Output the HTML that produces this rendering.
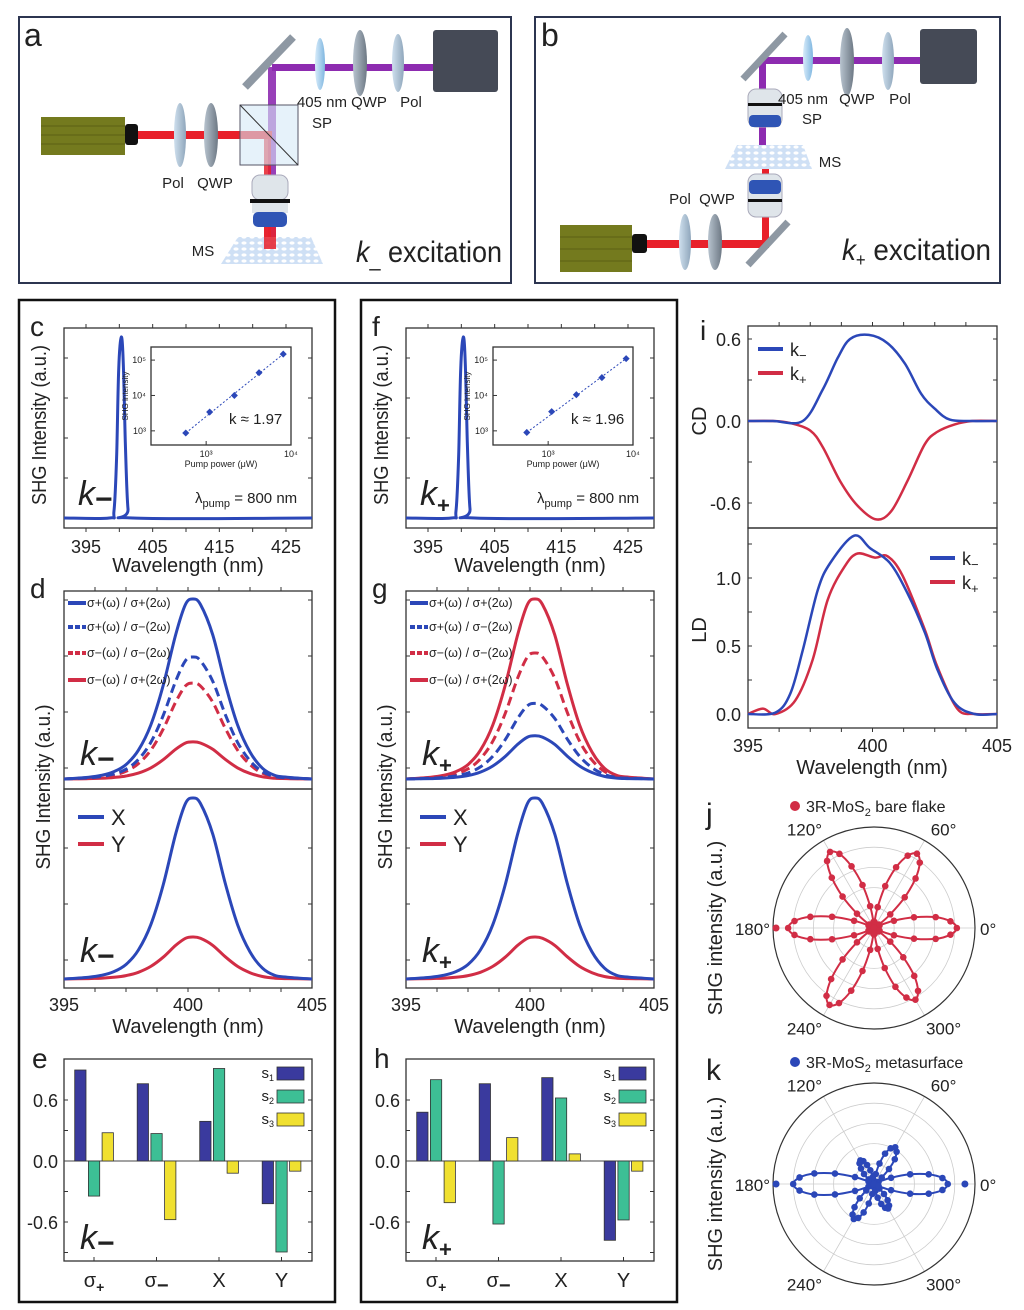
<!DOCTYPE html>
<html><head><meta charset="utf-8">
<style>
html,body{margin:0;padding:0;background:#fff;}
svg{display:block;font-family:"Liberation Sans",Arial,sans-serif;}
text{fill:#222;}
</style></head>
<body>
<svg id="fig" width="1024" height="1310" viewBox="0 0 1024 1310" xmlns="http://www.w3.org/2000/svg">
<defs>
<linearGradient id="lensG" x1="0" x2="1"><stop offset="0" stop-color="#cfe0ee"/><stop offset="1" stop-color="#8fa6bb"/></linearGradient>
<linearGradient id="qwpG" x1="0" x2="1"><stop offset="0" stop-color="#b8c4cf"/><stop offset="1" stop-color="#6d7884"/></linearGradient>
<linearGradient id="spG" x1="0" x2="1"><stop offset="0" stop-color="#d8ecfa"/><stop offset="1" stop-color="#7fb6e0"/></linearGradient>
<pattern id="msP" width="8" height="6" patternUnits="userSpaceOnUse"><rect width="8" height="6" fill="#cfe0f5"/><ellipse cx="4" cy="3" rx="2.6" ry="1.6" fill="#fff"/></pattern>
</defs>

<!-- Panel a -->
<g>
<rect x="19" y="17" width="492" height="266" fill="#fff" stroke="#2c3550" stroke-width="2"/>
<text x="24" y="46" font-size="32">a</text>
<rect x="268" y="67" width="8" height="190" fill="#8d2bb0" opacity="0.9"/>
<rect x="272" y="64" width="162" height="7" fill="#8d2bb0"/>
<rect x="138" y="131" width="134" height="8" fill="#e8202a"/>
<rect x="264" y="135" width="7" height="125" fill="#e8202a" opacity="0.85"/>
<rect x="41" y="117" width="84" height="38" fill="#747a1e"/>
<line x1="41" y1="126" x2="125" y2="126" stroke="#5b6014"/><line x1="41" y1="135" x2="125" y2="135" stroke="#5b6014"/><line x1="41" y1="144" x2="125" y2="144" stroke="#5b6014"/>
<rect x="125" y="124" width="13" height="21" rx="3" fill="#111"/>
<ellipse cx="180" cy="135" rx="6" ry="32" fill="url(#lensG)"/>
<ellipse cx="211" cy="135" rx="7" ry="32" fill="url(#qwpG)"/>
<rect x="240" y="105" width="58" height="60" fill="#d6e9f6" fill-opacity="0.6" stroke="#556" stroke-width="1"/>
<line x1="240" y1="105" x2="298" y2="165" stroke="#333"/>
<line x1="245" y1="87" x2="293" y2="37" stroke="#8e98a3" stroke-width="8"/>
<ellipse cx="320" cy="64" rx="5" ry="26" fill="url(#spG)"/>
<ellipse cx="360" cy="63" rx="7" ry="33" fill="url(#qwpG)"/>
<ellipse cx="398" cy="63" rx="6" ry="29" fill="url(#lensG)"/>
<rect x="433" y="30" width="65" height="62" rx="3" fill="#454a56"/>
<rect x="252" y="175" width="36" height="25" rx="8" fill="#dfe5ea" stroke="#aab"/>
<rect x="250" y="199" width="40" height="4" fill="#111"/>
<rect x="252" y="203" width="36" height="10" fill="#dfe5ea"/>
<rect x="253" y="212" width="34" height="15" rx="5" fill="#2f55b5"/>
<polygon points="238,237 311,237 323,264 221,264" fill="url(#msP)"/>
<rect x="264" y="227" width="12" height="22" fill="#e8202a" opacity="0.85"/>
<g font-size="15">
<text x="173" y="188" text-anchor="middle">Pol</text><text x="215" y="188" text-anchor="middle">QWP</text>
<text x="322" y="107" text-anchor="middle">405 nm</text><text x="322" y="128" text-anchor="middle">SP</text>
<text x="369" y="107" text-anchor="middle">QWP</text><text x="411" y="107" text-anchor="middle">Pol</text>
<text x="203" y="256" text-anchor="middle">MS</text>
</g>
<text x="356" y="262" font-size="30" textLength="146" lengthAdjust="spacingAndGlyphs"><tspan font-style="italic">k</tspan><tspan font-size="22" dy="4">_</tspan><tspan dy="-4"> excitation</tspan></text>
</g>

<!-- Panel b -->
<g>
<rect x="535" y="17" width="465" height="266" fill="#fff" stroke="#2c3550" stroke-width="2"/>
<text x="541" y="46" font-size="32">b</text>
<rect x="759" y="57" width="165" height="7" fill="#8d2bb0"/>
<rect x="759" y="60" width="7" height="95" fill="#8d2bb0"/>
<rect x="762" y="168" width="7" height="78" fill="#e8202a"/>
<rect x="645" y="240" width="124" height="8" fill="#e8202a"/>
<line x1="743" y1="79" x2="785" y2="34" stroke="#8e98a3" stroke-width="7"/>
<ellipse cx="808" cy="58" rx="5" ry="23" fill="url(#spG)"/>
<ellipse cx="847" cy="62" rx="7" ry="34" fill="url(#qwpG)"/>
<ellipse cx="888" cy="61" rx="6" ry="29" fill="url(#lensG)"/>
<rect x="920" y="29" width="57" height="55" rx="3" fill="#454a56"/>
<rect x="748" y="89" width="34" height="38" rx="8" fill="#dfe5ea" stroke="#aab"/>
<rect x="748" y="103" width="34" height="3" fill="#111"/>
<rect x="749" y="115" width="32" height="12" rx="4" fill="#2f55b5"/>
<polygon points="737,145 803,145 812,169 725,169" fill="url(#msP)"/>
<rect x="748" y="174" width="34" height="43" rx="8" fill="#dfe5ea" stroke="#aab"/>
<rect x="749" y="180" width="32" height="14" rx="4" fill="#2f55b5"/>
<rect x="748" y="199" width="34" height="3" fill="#111"/>
<line x1="748" y1="265" x2="788" y2="222" stroke="#8e98a3" stroke-width="7"/>
<rect x="560" y="225" width="72" height="47" fill="#747a1e"/>
<line x1="560" y1="237" x2="632" y2="237" stroke="#5b6014"/><line x1="560" y1="249" x2="632" y2="249" stroke="#5b6014"/><line x1="560" y1="261" x2="632" y2="261" stroke="#5b6014"/>
<rect x="632" y="234" width="15" height="19" rx="3" fill="#111"/>
<ellipse cx="685" cy="242" rx="6" ry="28" fill="url(#lensG)"/>
<ellipse cx="715" cy="242" rx="7" ry="28" fill="url(#qwpG)"/>
<g font-size="15">
<text x="803" y="104" text-anchor="middle">405 nm</text><text x="812" y="124" text-anchor="middle">SP</text>
<text x="857" y="104" text-anchor="middle">QWP</text><text x="900" y="104" text-anchor="middle">Pol</text>
<text x="830" y="167" text-anchor="middle">MS</text>
<text x="680" y="204" text-anchor="middle">Pol</text><text x="717" y="204" text-anchor="middle">QWP</text>
</g>
<text x="842" y="260" font-size="30" textLength="149" lengthAdjust="spacingAndGlyphs"><tspan font-style="italic">k</tspan><tspan font-size="18" dy="6">+</tspan><tspan dy="-6"> excitation</tspan></text>
</g>

<rect x="19" y="300" width="316" height="1002" fill="none" stroke="#111" stroke-width="2.5"/>
<rect x="361" y="300" width="316" height="1002" fill="none" stroke="#111" stroke-width="2.5"/>
<g id="plots"></g>
</svg>

<script>
// ---------- DATA ----------
const cWl = [391.7, 398.5, 399.2, 399.6, 399.9, 400.3, 400.6, 400.9, 401.3, 402, 428.9];
const cVal = [0, 0, 0.04, 0.35, 0.82, 1, 0.85, 0.42, 0.05, 0, 0];
const fWl = [391.7, 398.5, 399.2, 399.6, 399.9, 400.3, 400.6, 400.9, 401.3, 402, 428.9];
const fVal = [0, 0, 0.04, 0.35, 0.82, 1, 0.85, 0.42, 0.05, 0, 0];
const specTicks = ["395", "405", "415", "425"];
const specTickVals = [395, 405, 415, 425];

const insetPowerC = [575, 1100, 2150, 4200, 8100];
const insetShgC = [870, 3400, 10000, 44000, 148000];
const insetPowerF = [560, 1100, 2150, 4300, 8300];
const insetShgF = [900, 3500, 10500, 32000, 110000];

const peakWl = [395, 396, 396.5, 397, 397.5, 398, 398.5, 399, 399.5, 399.9, 400.2, 400.5, 401, 401.5, 402, 402.5, 403, 403.5, 404, 405];
const peakVal = [0, 0.01, 0.02, 0.04, 0.08, 0.16, 0.3, 0.52, 0.8, 0.97, 1, 0.97, 0.8, 0.53, 0.3, 0.15, 0.06, 0.02, 0.01, 0];
const circLabels = ["σ+(ω) / σ+(2ω)", "σ+(ω) / σ−(2ω)", "σ−(ω) / σ−(2ω)", "σ−(ω) / σ+(2ω)"];
const dCircAmp = [1.0, 0.678, 0.533, 0.206];
const gCircAmp = [0.24, 0.42, 0.70, 1.0];
const dLinAmp = [1.0, 0.232];
const gLinAmp = [1.0, 0.232];
const wlTicks = ["395", "400", "405"];
const wlTickVals = [395, 400, 405];

const barCats = ["σ+", "σ−", "X", "Y"];
const eS1 = [0.895, 0.76, 0.39, -0.42];
const eS2 = [-0.345, 0.27, 0.91, -0.895];
const eS3 = [0.278, -0.577, -0.12, -0.10];
const hS1 = [0.48, 0.76, 0.82, -0.78];
const hS2 = [0.80, -0.62, 0.62, -0.58];
const hS3 = [-0.41, 0.23, 0.07, -0.10];
const barTicks = ["0.6", "0.0", "-0.6"];
const barTickVals = [0.6, 0, -0.6];

const cdWlKm = [395, 396, 397.2, 398.0, 398.6, 399.1, 399.85, 400.6, 401.3, 401.95, 402.5, 403.1, 404, 405];
const cdKm = [0, 0, 0, 0.23, 0.46, 0.6, 0.63, 0.57, 0.42, 0.2, 0.09, 0.01, 0, 0];
const cdWlKp = [395, 396, 396.7, 397.5, 398.0, 398.7, 399.4, 400.15, 400.75, 401.4, 402.1, 402.6, 403.3, 404, 405];
const cdKp = [0, 0, -0.015, -0.07, -0.19, -0.44, -0.62, -0.72, -0.66, -0.44, -0.17, -0.08, -0.025, 0, 0];
const ldWlKm = [395, 396.1, 396.7, 397.2, 397.8, 398.3, 399.25, 399.9, 400.7, 401.4, 402.1, 402.6, 403.3, 404.1, 405];
const ldKm = [0, 0.01, 0.15, 0.47, 0.91, 1.11, 1.31, 1.22, 1.11, 0.89, 0.6, 0.33, 0.08, 0, 0];
const ldWlKp = [395, 395.6, 396.1, 396.9, 397.6, 398.2, 398.9, 399.4, 400.1, 400.6, 401.2, 402.1, 402.6, 403.4, 404.1, 405];
const ldKp = [0, 0.04, 0, 0.1, 0.4, 0.84, 1.09, 1.18, 1.15, 1.16, 1.02, 0.62, 0.35, 0.04, 0, 0];
const cdTicks = ["0.6", "0.0", "-0.6"];
const cdTickVals = [0.6, 0, -0.6];
const ldTicks = ["1.0", "0.5", "0.0"];
const ldTickVals = [1.0, 0.5, 0];

const polAngles = [0,5,10,15,20,25,30,35,40,45,50,55,60,65,70,75,80,85,90,95,100,105,110,115,120,125,130,135,140,145,150,155,160,165,170,175,180,185,190,195,200,205,210,215,220,225,230,235,240,245,250,255,260,265,270,275,280,285,290,295,300,305,310,315,320,325,330,335,340,345,350,355];
const jR = [0.82,0.76,0.62,0.41,0.21,0.06,0,0.06,0.21,0.43,0.64,0.79,0.85,0.79,0.64,0.43,0.21,0.06,0,0.06,0.22,0.44,0.65,0.81,0.87,0.81,0.65,0.44,0.22,0.06,0,0.06,0.21,0.43,0.64,0.79,0.85,0.79,0.64,0.43,0.21,0.06,0,0.06,0.22,0.44,0.66,0.82,0.88,0.82,0.66,0.44,0.22,0.06,0,0.06,0.21,0.41,0.62,0.76,0.82,0.76,0.62,0.41,0.21,0.06,0,0.06,0.21,0.41,0.62,0.76];
const kR = [0.73,0.68,0.55,0.37,0.18,0.05,0,0.03,0.1,0.21,0.32,0.39,0.42,0.39,0.32,0.21,0.1,0.03,0,0.02,0.07,0.14,0.2,0.25,0.27,0.25,0.2,0.14,0.07,0.02,0,0.06,0.2,0.4,0.6,0.74,0.8,0.74,0.6,0.4,0.2,0.06,0,0.03,0.1,0.2,0.3,0.37,0.4,0.37,0.3,0.2,0.1,0.03,0,0.02,0.07,0.14,0.21,0.26,0.28,0.26,0.21,0.14,0.07,0.02,0,0.05,0.18,0.37,0.55,0.68];
const jOutAng = [180];
const jOutR = [0.97];
const kOutAng = [0, 180];
const kOutR = [0.9, 0.97];
const polLabels = ["0°", "60°", "120°", "180°", "240°", "300°"];
const polLabelAng = [0, 60, 120, 180, 240, 300];

// ---------- HELPERS ----------
const NS = "http://www.w3.org/2000/svg";
const root = document.getElementById("plots");
const BLUE = "#2b47b8", RED = "#d12d45";
function mk(tag, attrs, parent) {
  const e = document.createElementNS(NS, tag);
  for (const k in attrs) e.setAttribute(k, attrs[k]);
  (parent || root).appendChild(e);
  return e;
}
function lin(d0, d1, r0, r1) { return v => r0 + (v - d0) * (r1 - r0) / (d1 - d0); }
function smoothPath(pts, closed) {
  const n = pts.length;
  const P = i => closed ? pts[(i + n) % n] : pts[Math.max(0, Math.min(n - 1, i))];
  let d = "M" + pts[0][0].toFixed(1) + "," + pts[0][1].toFixed(1);
  const segs = closed ? n : n - 1;
  for (let i = 0; i < segs; i++) {
    const p0 = P(i - 1), p1 = P(i), p2 = P(i + 1), p3 = P(i + 2);
    const c1 = [p1[0] + (p2[0] - p0[0]) / 6, p1[1] + (p2[1] - p0[1]) / 6];
    const c2 = [p2[0] - (p3[0] - p1[0]) / 6, p2[1] - (p3[1] - p1[1]) / 6];
    d += "C" + c1.map(v => v.toFixed(1)).join(",") + " " + c2.map(v => v.toFixed(1)).join(",") + " " + p2[0].toFixed(1) + "," + p2[1].toFixed(1);
  }
  return d + (closed ? "Z" : "");
}
function txt(x, y, s, size, anchor, parent) {
  const t = mk("text", { x: x, y: y, "font-size": size, "text-anchor": anchor || "start" }, parent);
  t.textContent = s;
  return t;
}
function frame(x0, y0, x1, y1, parent) {
  return mk("rect", { x: x0, y: y0, width: x1 - x0, height: y1 - y0, fill: "none", stroke: "#333", "stroke-width": 1.3 }, parent);
}
function kLabel(x, y, sign, parent) {
  const t = mk("text", { x: x, y: y, "font-size": 34, "font-style": "italic" }, parent);
  const a = mk("tspan", {}, t); a.textContent = "k";
  const b = mk("tspan", { "font-size": sign === "+" ? 22 : 30, dy: sign === "+" ? 8 : 4, "font-style": "normal", "font-weight": "bold" }, t);
  b.textContent = sign === "+" ? "+" : "−";
  return t;
}
function yTicks(x0, x1, ys, parent) {
  ys.forEach(y => {
    mk("line", { x1: x0, y1: y, x2: x0 + 4, y2: y, stroke: "#333" }, parent);
    mk("line", { x1: x1, y1: y, x2: x1 - 4, y2: y, stroke: "#333" }, parent);
  });
}
function xTicks(y0, y1, xs, parent) {
  xs.forEach(x => {
    mk("line", { x1: x, y1: y0, x2: x, y2: y0 + 4, stroke: "#333" }, parent);
    mk("line", { x1: x, y1: y1, x2: x, y2: y1 - 4, stroke: "#333" }, parent);
  });
}

// ---------- SPECTRUM PANELS (c, f) ----------
function specPanel(off, letter, wl, val, sign, pw, shg, kval) {
  const g = mk("g", {});
  
  
  const sx = lin(391.7, 428.9, 64 + off, 312 + off);
  const sy = lin(0, 1, 518, 337);
  frame(64 + off, 328, 312 + off, 528, g);
  xTicks(528, 328, [395, 400, 405, 410, 415, 420, 425].map(sx), g);
  yTicks(64 + off, 312 + off, [518, 478, 438, 398, 358], g);
  specTickVals.forEach((v, i) => {
    const t = txt(sx(v), 553, specTicks[i], 18, "middle", g);
    
    
  });
  const xt = txt(188 + off, 572, "Wavelength (nm)", 20, "middle", g);
  
  
  const yt = mk("text", { x: 0, y: 0, "font-size": 20, "text-anchor": "middle", textLength: 160, lengthAdjust: "spacingAndGlyphs" }, g);
  yt.textContent = "SHG Intensity (a.u.)";
  yt.setAttribute("transform", "translate(" + (46 + off) + ",425) rotate(-90)");
  
  
  const pl = txt(30 + off, 336, letter, 28, "start", g);
  
  
  const p = mk("path", { d: smoothPath(wl.map((w, i) => [sx(w), sy(val[i])])), fill: "none", stroke: BLUE, "stroke-width": 3 }, g);
  
  
  const kl = kLabel(78 + off, 505, sign, g);
  
  
  const lp = mk("text", { x: 195 + off, y: 503, "font-size": 15 }, g);
  
  
  const t1 = mk("tspan", {}, lp); t1.textContent = "λ";
  const t2 = mk("tspan", { "font-size": 11, dy: 4 }, lp); t2.textContent = "pump";
  const t3 = mk("tspan", { dy: -4 }, lp); t3.textContent = " = 800 nm";
  // inset
  const ig = mk("g", {}, g);
  
  
  const ix = lin(2.35, 4.0, 151 + off, 291 + off);
  const iy = lin(2.6, 5.37, 445, 347);
  frame(151 + off, 347, 291 + off, 445, ig);
  [3, 4].forEach(d => { mk("line", { x1: ix(d), y1: 445, x2: ix(d), y2: 441, stroke: "#333" }, ig); });
  [3, 4, 5].forEach(d => { mk("line", { x1: 151 + off, y1: iy(d), x2: 155 + off, y2: iy(d), stroke: "#333" }, ig); });
  txt(ix(3), 457, "10³", 9, "middle", ig);
  txt(ix(4), 457, "10⁴", 9, "middle", ig);
  txt(146 + off, iy(5) + 3, "10⁵", 9, "end", ig);
  txt(146 + off, iy(4) + 3, "10⁴", 9, "end", ig);
  txt(146 + off, iy(3) + 3, "10³", 9, "end", ig);
  txt(221 + off, 467, "Pump power (μW)", 9, "middle", ig);
  const iyt = txt(0, 0, "SHG intensity", 8, "middle", ig);
  iyt.setAttribute("transform", "translate(" + (128 + off) + ",396) rotate(-90)");
  const n = pw.length;
  const fl = mk("line", { x1: ix(Math.log10(pw[0])), y1: iy(Math.log10(shg[0])), x2: ix(Math.log10(pw[n - 1])), y2: iy(Math.log10(shg[n - 1])), stroke: BLUE, "stroke-width": 1, "stroke-dasharray": "2,2" }, ig);
  
  
  pw.forEach((p, i) => {
    const c = mk("rect", { x: ix(Math.log10(p)) - 2.5, y: iy(Math.log10(shg[i])) - 2.5, width: 5, height: 5, fill: BLUE, transform: "rotate(45 " + ix(Math.log10(p)) + " " + iy(Math.log10(shg[i])) + ")" }, ig);
    
    
  });
  const kt = txt(229 + off, 424, "k ≈ " + kval, 15, "start", ig);
  
  
}
specPanel(0, "c", cWl, cVal, "−", insetPowerC, insetShgC, "1.97");
specPanel(342, "f", fWl, fVal, "+", insetPowerF, insetShgF, "1.96");

// ---------- POLARIZATION SPECTRA (d, g) ----------
function polSpecPanel(off, letter, circAmp, linAmp, sign) {
  const g = mk("g", {});
  
  
  const sx = lin(395, 405, 64 + off, 312 + off);
  const syT = lin(0, 1, 779, 599);
  const syB = lin(0, 1, 979, 798);
  frame(64 + off, 591, 312 + off, 789, g);
  frame(64 + off, 789, 312 + off, 988, g);
  xTicks(988, 591, [396.25, 397.5, 398.75, 400, 401.25, 402.5, 403.75].map(sx), g);
  yTicks(64 + off, 312 + off, [768, 712, 656, 600, 960, 904, 848], g);
  wlTickVals.forEach((v, i) => {
    const t = txt(sx(v), 1011, wlTicks[i], 18, "middle", g);
    
    
  });
  const xt = txt(188 + off, 1033, "Wavelength (nm)", 20, "middle", g);
  
  
  const yt = mk("text", { x: 0, y: 0, "font-size": 20, "text-anchor": "middle", textLength: 165, lengthAdjust: "spacingAndGlyphs" }, g);
  yt.textContent = "SHG Intensity (a.u.)";
  yt.setAttribute("transform", "translate(" + (50 + off) + ",787) rotate(-90)");
  
  
  const pl = txt(30 + off, 598, letter, 28, "start", g);
  
  
  const cols = [BLUE, BLUE, RED, RED];
  const dashes = ["none", "9,5", "9,5", "none"];
  const order = [3, 2, 1, 0];
  order.forEach(i => {
    const p = mk("path", { d: smoothPath(peakWl.map((w, j) => [sx(w), syT(peakVal[j] * circAmp[i])])), fill: "none", stroke: cols[i], "stroke-width": 3, "stroke-dasharray": dashes[i] }, g);
    
    
  });
  circLabels.forEach((s, i) => {
    const y = [603, 627, 653, 680][i];
    const l = mk("line", { x1: 68 + off, y1: y, x2: 86 + off, y2: y, stroke: cols[i], "stroke-width": 4, "stroke-dasharray": i === 1 || i === 2 ? "5,2" : "none" }, g);
    
    
    const t = txt(87 + off, y + 4, s, 12.5, "start", g);
    
    
  });
  const lc = [BLUE, RED];
  const ln = ["X", "Y"];
  [1, 0].forEach(i => {
    const p = mk("path", { d: smoothPath(peakWl.map((w, j) => [sx(w), syB(peakVal[j] * linAmp[i])])), fill: "none", stroke: lc[i], "stroke-width": 3 }, g);
    
    
  });
  ln.forEach((s, i) => {
    const y = [817, 844][i];
    const l = mk("line", { x1: 78 + off, y1: y, x2: 104 + off, y2: y, stroke: lc[i], "stroke-width": 4 }, g);
    
    
    const t = txt(111 + off, y + 8, s, 22, "start", g);
    
    
  });
  const k1 = kLabel(80 + off, 765, sign, g);
  
  
  const k2 = kLabel(80 + off, 962, sign, g);
  
  
}
polSpecPanel(0, "d", dCircAmp, dLinAmp, "−");
polSpecPanel(342, "g", gCircAmp, gLinAmp, "+");

// ---------- STOKES BAR PANELS (e, h) ----------
function barPanel(off, letter, s1, s2, s3, sign) {
  const g = mk("g", {});
  
  
  const sy = lin(0, 0.6, 1161, 1100);
  const catX = i => 94 + off + i * 62.5;
  frame(64 + off, 1059, 312 + off, 1261, g);
  yTicks(64 + off, 312 + off, [-0.9, -0.6, -0.3, 0.3, 0.6].map(sy), g);
  [0, 1, 2, 3].forEach(i => mk("line", { x1: catX(i), y1: 1261, x2: catX(i), y2: 1257, stroke: "#333" }, g));
  mk("line", { x1: 64 + off, y1: sy(0), x2: 312 + off, y2: sy(0), stroke: "#444", "stroke-width": 1 }, g);
  barTickVals.forEach((v, i) => {
    const t = txt(58 + off, sy(v) + 7, barTicks[i], 18, "end", g);
    
    
  });
  const series = [s1, s2, s3];
  const fills = ["#3a3a9e", "#3dbf95", "#f0e030"];
  series.forEach((arr, si) => {
    arr.forEach((v, i) => {
      const x = catX(i) + (si - 1) * 13.7 - 5.6;
      const y0 = sy(Math.max(v, 0)), y1 = sy(Math.min(v, 0));
      const r = mk("rect", { x: x, y: y0, width: 11.3, height: y1 - y0, fill: fills[si], stroke: "#333", "stroke-width": 0.8 }, g);
      
      
    });
  });
  barCats.forEach((c, i) => {
    const t = mk("text", { x: catX(i), y: 1287, "font-size": 20, "text-anchor": "middle" }, g);
    
    
    if (c.length > 1) {
      const a = mk("tspan", {}, t); a.textContent = "σ";
      const b = mk("tspan", { "font-size": c[1] === "+" ? 14 : 20, dy: 5, "font-weight": "bold" }, t); b.textContent = c[1];
    } else t.textContent = c;
  });
  ["s1", "s2", "s3"].forEach((s, i) => {
    const y = 1067 + i * 23;
    const r = mk("rect", { x: 277 + off, y: y, width: 27, height: 13, fill: fills[i], stroke: "#333", "stroke-width": 0.8 }, g);
    
    
    const t = mk("text", { x: 274 + off, y: y + 11, "font-size": 15, "text-anchor": "end" }, g);
    
    
    const a = mk("tspan", {}, t); a.textContent = "s";
    const b = mk("tspan", { "font-size": 9, dy: 3 }, t); b.textContent = String(i + 1);
  });
  const pl = txt(32 + off, 1068, letter, 28, "start", g);
  
  
  const kl = kLabel(80 + off, 1249, sign, g);
  
  
}
barPanel(0, "e", eS1, eS2, eS3, "−");
barPanel(342, "h", hS1, hS2, hS3, "+");

// ---------- PANEL i ----------
(function () {
  const g = mk("g", {});
  
  
  const sx = lin(395, 405, 748, 997);
  const syC = lin(0, 0.6, 421, 339);
  const syL = lin(0, 1, 714, 578);
  frame(748, 326, 997, 528, g);
  frame(748, 528, 997, 728, g);
  xTicks(728, 326, [396.25, 397.5, 398.75, 400, 401.25, 402.5, 403.75].map(sx), g);
  yTicks(748, 997, [0.6, 0.3, 0, -0.3, -0.6].map(syC), g);
  yTicks(748, 997, [0, 0.25, 0.5, 0.75, 1.0, 1.25].map(syL), g);
  cdTickVals.forEach((v, i) => {
    const t = txt(741, syC(v) + 7, cdTicks[i], 18, "end", g);
    
    
  });
  ldTickVals.forEach((v, i) => {
    const t = txt(741, syL(v) + 7, ldTicks[i], 18, "end", g);
    
    
  });
  wlTickVals.forEach((v, i) => {
    const t = txt(sx(v), 752, wlTicks[i], 18, "middle", g);
    
    
  });
  const xt = txt(872, 774, "Wavelength (nm)", 20, "middle", g);
  
  
  const cd = txt(0, 0, "CD", 20, "middle", g);
  cd.setAttribute("transform", "translate(706,421) rotate(-90)");
  
  
  const ld = txt(0, 0, "LD", 20, "middle", g);
  ld.setAttribute("transform", "translate(706,630) rotate(-90)");
  
  
  const pl = txt(700, 340, "i", 28, "start", g);
  
  
  const l1 = mk("path", { d: smoothPath(cdWlKp.map((w, i) => [sx(w), syC(cdKp[i])])), fill: "none", stroke: RED, "stroke-width": 2.5 }, g);
  
  
  const l2 = mk("path", { d: smoothPath(cdWlKm.map((w, i) => [sx(w), syC(cdKm[i])])), fill: "none", stroke: BLUE, "stroke-width": 2.5 }, g);
  
  
  const l3 = mk("path", { d: smoothPath(ldWlKp.map((w, i) => [sx(w), syL(ldKp[i])])), fill: "none", stroke: RED, "stroke-width": 2.5 }, g);
  
  
  const l4 = mk("path", { d: smoothPath(ldWlKm.map((w, i) => [sx(w), syL(ldKm[i])])), fill: "none", stroke: BLUE, "stroke-width": 2.5 }, g);
  
  
  function leg(x, y, col, sign) {
    const l = mk("line", { x1: x, y1: y, x2: x + 25, y2: y, stroke: col, "stroke-width": 4 }, g);
    
    
    const t = mk("text", { x: x + 32, y: y + 7, "font-size": 18 }, g);
    
    
    const a = mk("tspan", {}, t); a.textContent = "k";
    const b = mk("tspan", { "font-size": 13, dy: 4 }, t); b.textContent = sign;
  }
  leg(758, 349, BLUE, "−"); leg(758, 373, RED, "+");
  leg(930, 558, BLUE, "−"); leg(930, 582, RED, "+");
})();

// ---------- POLAR PANELS (j, k) ----------
function polarPanel(cy, letter, rArr, outA, outR, col, legendText) {
  const cx = 874, R = 101;
  const g = mk("g", {});
  
  
  [0.2, 0.4, 0.6, 0.8].forEach(f => mk("circle", { cx: cx, cy: cy, r: R * f, fill: "none", stroke: "#ccc", "stroke-width": 0.8 }, g));
  [0, 60, 120].forEach(a => {
    const t = a * Math.PI / 180;
    mk("line", { x1: cx - R * Math.cos(t), y1: cy + R * Math.sin(t), x2: cx + R * Math.cos(t), y2: cy - R * Math.sin(t), stroke: "#ccc", "stroke-width": 0.8 }, g);
  });
  const oc = mk("circle", { cx: cx, cy: cy, r: R, fill: "none", stroke: "#333", "stroke-width": 1.2 }, g);
  
  
  const pt = (a, r) => [cx + R * r * Math.cos(a * Math.PI / 180), cy - R * r * Math.sin(a * Math.PI / 180)];
  const curve = mk("path", { d: smoothPath(polAngles.map((a, i) => pt(a, rArr[i])), true), fill: "none", stroke: col, "stroke-width": 2 }, g);
  
  
  polAngles.forEach((a, i) => {
    const p = pt(a, rArr[i]);
    const c = mk("circle", { cx: p[0], cy: p[1], r: 3.3, fill: col }, g);
    
    
  });
  outA.forEach((a, i) => {
    const p = pt(a, outR[i]);
    const c = mk("circle", { cx: p[0], cy: p[1], r: 3.5, fill: col }, g);
    
    
  });
  polLabelAng.forEach((a, i) => {
    let x, y, anc;
    if (a === 0) { x = 980; y = cy + 7; anc = "start"; }
    else if (a === 180) { x = 770; y = cy + 7; anc = "end"; }
    else { const p = pt(a, 1.14); x = p[0]; y = p[1] + 7; anc = "middle"; if (a === 60 || a === 300) x += 12; else x -= 12; }
    const t = txt(x, y, polLabels[i], 17, anc, g);
    
    
  });
  const yt = txt(0, 0, "SHG intensity (a.u.)", 20, "middle", g);
  yt.setAttribute("transform", "translate(722," + cy + ") rotate(-90)");
  
  
  const ld = mk("circle", { cx: 795, cy: cy - 122, r: 5, fill: col }, g);
  
  
  const lt = mk("text", { x: 806, y: cy - 116, "font-size": 16 }, g);
  
  
  const a1 = mk("tspan", {}, lt); a1.textContent = "3R-MoS";
  const a2 = mk("tspan", { "font-size": 11, dy: 4 }, lt); a2.textContent = "2";
  const a3 = mk("tspan", { dy: -4 }, lt); a3.textContent = " " + legendText;
  const pl = txt(706, cy - 104, letter, 30, "start", g);
  
  
}
polarPanel(928, "j", jR, jOutAng, jOutR, RED, "bare flake");
polarPanel(1184, "k", kR, kOutAng, kOutR, BLUE, "metasurface");
</script>
</body></html>
